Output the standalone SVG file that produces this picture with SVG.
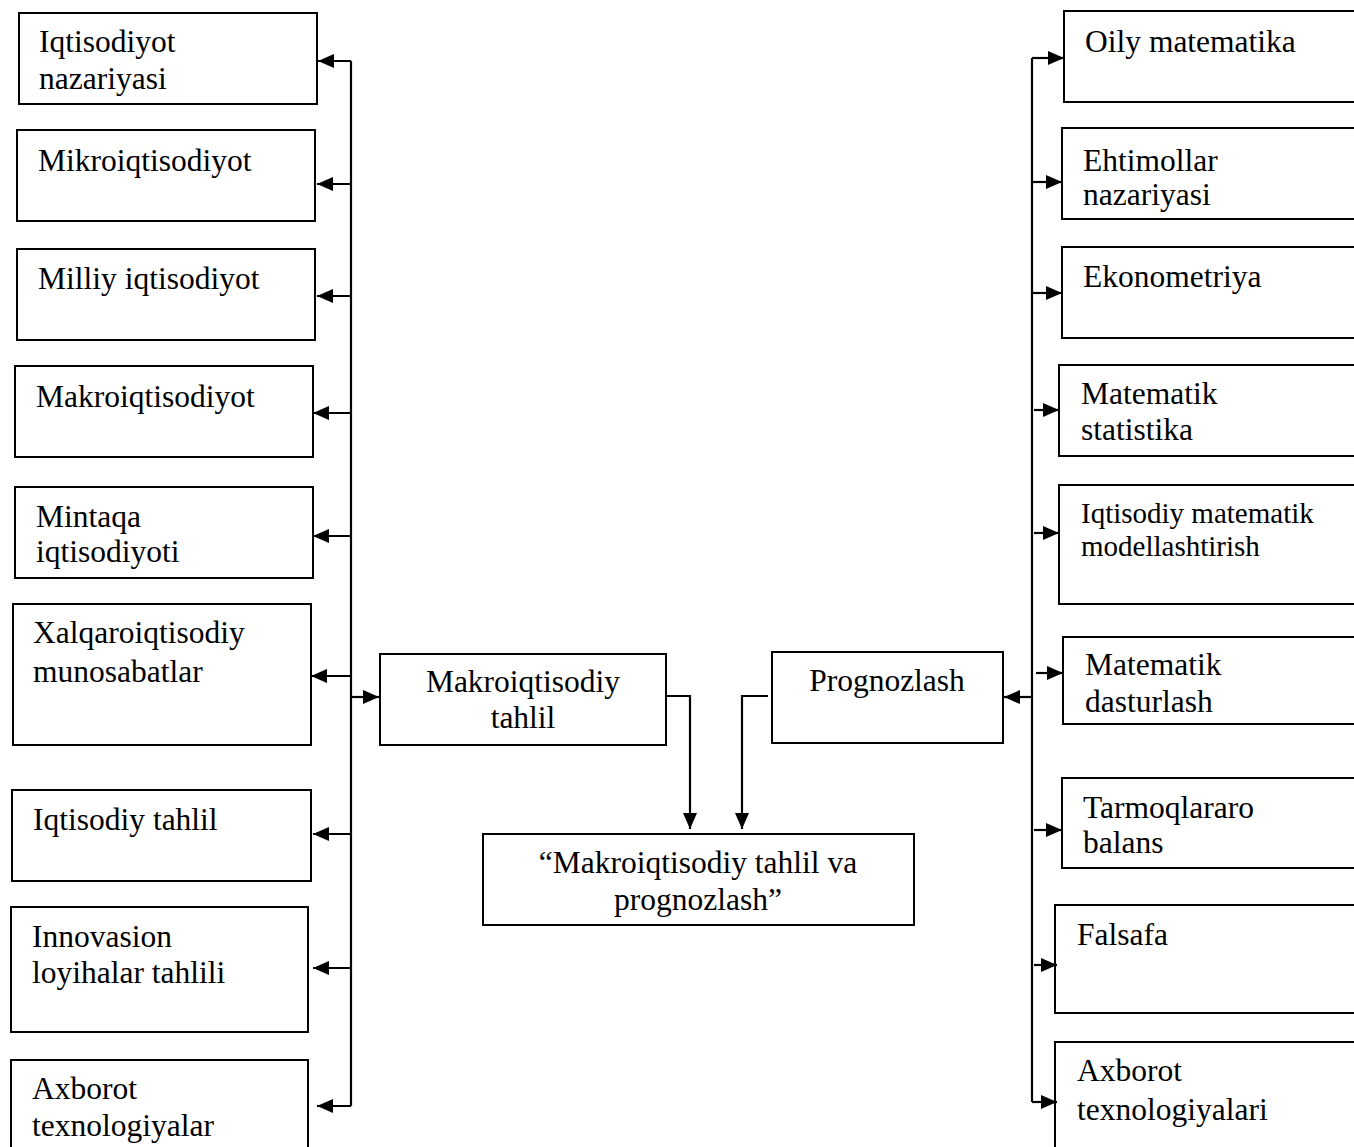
<svg xmlns="http://www.w3.org/2000/svg" width="1354" height="1147" viewBox="0 0 1354 1147">
<defs>
<marker id="ah" markerUnits="userSpaceOnUse" markerWidth="17" markerHeight="15" refX="16" refY="7" orient="auto">
<path d="M0,0 L16,7 L0,14 z" fill="#000"/>
</marker>
<style>
.box{fill:#fff;stroke:#000;stroke-width:2}
.t{font-family:"Liberation Serif","Times New Roman",serif;font-size:31.5px;fill:#000}
.ts{font-family:"Liberation Serif","Times New Roman",serif;font-size:29px;fill:#000}
.c{text-anchor:middle}
.ln{fill:none;stroke:#000;stroke-width:2.2}
.ar{fill:none;stroke:#000;stroke-width:2.2;marker-end:url(#ah)}
</style>
</defs>
<rect width="1354" height="1147" fill="#fff"/>

<g id="L1"><rect class="box" x="19" y="13" width="298" height="91"/><text class="t" x="39" y="52">Iqtisodiyot</text><text class="t" x="39" y="89">nazariyasi</text></g>
<g id="L2"><rect class="box" x="17" y="130" width="298" height="91"/><text class="t" x="38" y="171">Mikroiqtisodiyot</text></g>
<g id="L3"><rect class="box" x="17" y="249" width="298" height="91"/><text class="t" x="38" y="289">Milliy iqtisodiyot</text></g>
<g id="L4"><rect class="box" x="15" y="366" width="298" height="91"/><text class="t" x="36" y="407">Makroiqtisodiyot</text></g>
<g id="L5"><rect class="box" x="15" y="487" width="298" height="91"/><text class="t" x="36" y="527">Mintaqa</text><text class="t" x="36" y="562">iqtisodiyoti</text></g>
<g id="L6"><rect class="box" x="13" y="604" width="298" height="141"/><text class="t" x="33" y="643">Xalqaroiqtisodiy</text><text class="t" x="33" y="682">munosabatlar</text></g>
<g id="L7"><rect class="box" x="12" y="790" width="299" height="91"/><text class="t" x="33" y="830">Iqtisodiy tahlil</text></g>
<g id="L8"><rect class="box" x="11" y="907" width="297" height="125"/><text class="t" x="32" y="947">Innovasion</text><text class="t" x="32" y="983">loyihalar tahlili</text></g>
<g id="L9"><rect class="box" x="11" y="1060" width="297" height="100"/><text class="t" x="32" y="1099">Axborot</text><text class="t" x="32" y="1136">texnologiyalar</text></g>

<g id="C1"><rect class="box" x="380" y="654" width="286" height="91"/><text class="t c" x="523" y="692">Makroiqtisodiy</text><text class="t c" x="523" y="728">tahlil</text></g>
<g id="C2"><rect class="box" x="772" y="652" width="231" height="91"/><text class="t c" x="887" y="691">Prognozlash</text></g>
<g id="C3"><rect class="box" x="483" y="834" width="431" height="91"/><text class="t c" x="698" y="873">“Makroiqtisodiy tahlil va</text><text class="t c" x="698" y="910">prognozlash”</text></g>

<g id="R1"><rect class="box" x="1064" y="11" width="300" height="91"/><text class="t" x="1085" y="52">Oily matematika</text></g>
<g id="R2"><rect class="box" x="1062" y="128" width="300" height="91"/><text class="t" x="1083" y="171">Ehtimollar</text><text class="t" x="1083" y="205">nazariyasi</text></g>
<g id="R3"><rect class="box" x="1062" y="247" width="300" height="91"/><text class="t" x="1083" y="287">Ekonometriya</text></g>
<g id="R4"><rect class="box" x="1059" y="365" width="300" height="91"/><text class="t" x="1081" y="404">Matematik</text><text class="t" x="1081" y="440">statistika</text></g>
<g id="R5"><rect class="box" x="1059" y="485" width="300" height="119"/><text class="ts" x="1081" y="523">Iqtisodiy matematik</text><text class="ts" x="1081" y="556">modellashtirish</text></g>
<g id="R6"><rect class="box" x="1063" y="637" width="300" height="87"/><text class="t" x="1085" y="675">Matematik</text><text class="t" x="1085" y="712">dasturlash</text></g>
<g id="R7"><rect class="box" x="1062" y="778" width="300" height="90"/><text class="t" x="1083" y="818">Tarmoqlararo</text><text class="t" x="1083" y="853">balans</text></g>
<g id="R8"><rect class="box" x="1055" y="905" width="305" height="108"/><text class="t" x="1077" y="945">Falsafa</text></g>
<g id="R9"><rect class="box" x="1055" y="1042" width="305" height="120"/><text class="t" x="1077" y="1081">Axborot</text><text class="t" x="1077" y="1120">texnologiyalari</text></g>

<g id="connectors">
<path class="ln" d="M351,61 V1106"/>
<path class="ar" d="M351,61 H318"/>
<path class="ar" d="M351,184 H317"/>
<path class="ar" d="M351,296 H317"/>
<path class="ar" d="M351,413 H313"/>
<path class="ar" d="M351,536 H313"/>
<path class="ar" d="M351,676 H311"/>
<path class="ar" d="M351,834 H313"/>
<path class="ar" d="M351,968 H313"/>
<path class="ar" d="M351,1106 H317"/>
<path class="ar" d="M351,697 H379"/>

<path class="ar" d="M666,696 H690 V829"/>
<path class="ar" d="M768,696 H742 V829"/>
<path class="ar" d="M1032,697 H1004"/>

<path class="ln" d="M1032,58 V1102"/>
<path class="ar" d="M1032,58 H1064"/>
<path class="ar" d="M1032,182 H1062"/>
<path class="ar" d="M1032,293 H1062"/>
<path class="ar" d="M1034,410 H1059"/>
<path class="ar" d="M1034,533 H1059"/>
<path class="ar" d="M1036,673 H1063"/>
<path class="ar" d="M1034,830 H1062"/>
<path class="ar" d="M1034,965 H1057"/>
<path class="ar" d="M1032,1102 H1057"/>
</g>
</svg>
